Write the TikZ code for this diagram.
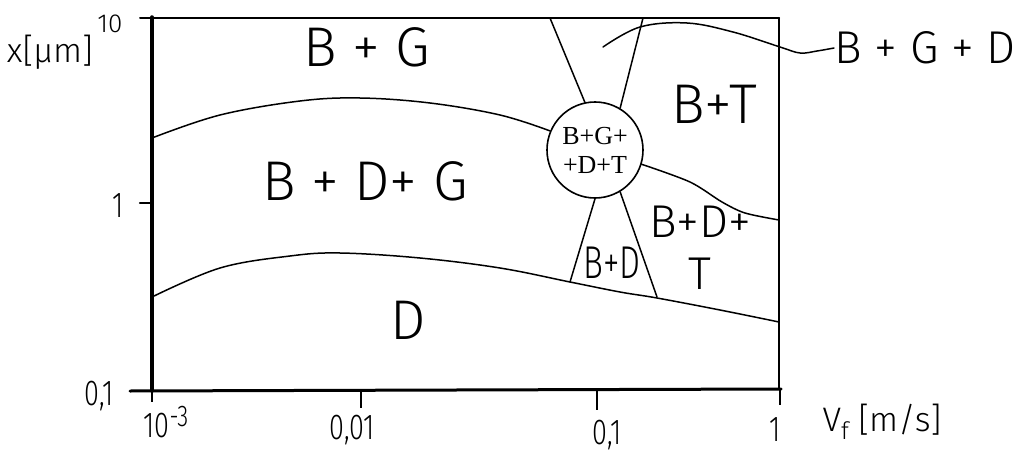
\documentclass[tikz,border=0pt]{standalone}
\usepackage{fontspec}
\setmainfont{Fira Sans Light}
\newfontfamily\circfont{Liberation Serif}
\begin{document}
\begin{tikzpicture}[x=1pt,y=-1pt,
  hand/.style={line width=1.5pt, line cap=round, line join=round},
  region/.style={font=\fontsize{56}{60}\selectfont, inner sep=0pt},
  midregion/.style={font=\fontsize{46}{50}\selectfont, inner sep=0pt},
  ticklab/.style={font=\fontsize{36}{40}\selectfont, inner sep=0pt, xscale=0.75},
  axlab/.style={font=\fontsize{34}{38}\selectfont, inner sep=0pt}]
\useasboundingbox (0,0) rectangle (1020,452);

% axes frame
\draw[line width=3.5pt, line cap=round] (152,17) -- (152,391);
\draw[line width=3pt, line cap=round] (130,391) -- (781,389);
\draw[line width=2pt, line cap=round] (140,18) -- (779,18);
\draw[line width=2pt, line cap=round] (779,18) -- (779,389);
% ticks
\draw[line width=2.5pt, line cap=round] (140,203) -- (152,203);
\draw[line width=2pt] (152,391) -- (152,402);
\draw[line width=2pt] (361,391) -- (361,408);
\draw[line width=2pt] (597,390) -- (597,410);
\draw[line width=2pt] (780,389) -- (780,405);

% circle node
\node[draw, circle, line width=1.6pt, minimum size=96pt, inner sep=0pt,
      font=\circfont\fontsize{26}{29}\selectfont, align=center] (c) at (595,150) {B+G+\\+D+T};

% boundaries
\draw[hand] plot[smooth, tension=0.6] coordinates
  {(152,138) (220,115) (300,101) (360,98) (430,103) (500,115) (c.157)};
\draw[hand] plot[smooth, tension=0.6] coordinates
  {(152,297) (220,268) (290,256) (340,253) (420,258) (500,268) (570,282) (620,292) (657,298) (720,310) (779,322)};
\draw[hand] plot[smooth, tension=0.5] coordinates
  {(c.-17) (690,182) (722,202) (745,213) (779,220)};
\coordinate (tl) at (550,18);
\coordinate (tr) at (643,18);
\coordinate (bl) at (570,282);
\coordinate (br) at (657,297);
\draw[hand] (tl) -- (c.102);
\draw[hand] (tr) -- (c.59);
\draw[hand] (c.-90) -- (bl);
\draw[hand] (c.-59) -- (br);

% leader to B+G+D
\node[midregion, anchor=west] (bgd) at (834,48) {B + G + D};
\draw[hand] plot[smooth, tension=0.6] coordinates
  {(603,47) (640,27) (687,23) (733,32) (780,47) (800,53) (817,51) (bgd.west)};

% region labels
\node[region] (bg) at (367,47) {B + G};
\node[region] (bdg) at (365,181) {B + D+ G};
\node[region] (d) at (408,320) {D};
\node[region] (bt) at (714,104) {B+T};
\node[midregion] (bdt) at (700,222) {B+D+};
\node[midregion] (t) at (700,274) {T};
\node[midregion, xscale=0.72] (bd) at (612,263) {B+D};

% axis labels
\node[axlab] (xl) at (50,52) {x[μm]};
\node[font=\fontsize{26}{28}\selectfont, inner sep=0pt] (y10) at (110,24) {10};
\node[ticklab] (y1) at (118,206) {1};
\node[ticklab] (y01) at (99,396) {0,1};
\node[ticklab] (x3) at (166,422) {10\raisebox{0.3em}{\fontsize{30}{32}\selectfont -3}};
\node[ticklab] (x001) at (352,430) {0,01};
\node[ticklab] (x01) at (607,435) {0,1};
\node[ticklab] (x1) at (775,430) {1};
\node[axlab] (vl) at (882,422) {V\raisebox{-0.25em}{\fontsize{24}{26}\selectfont f} [m/s]};
\end{tikzpicture}
\end{document}
